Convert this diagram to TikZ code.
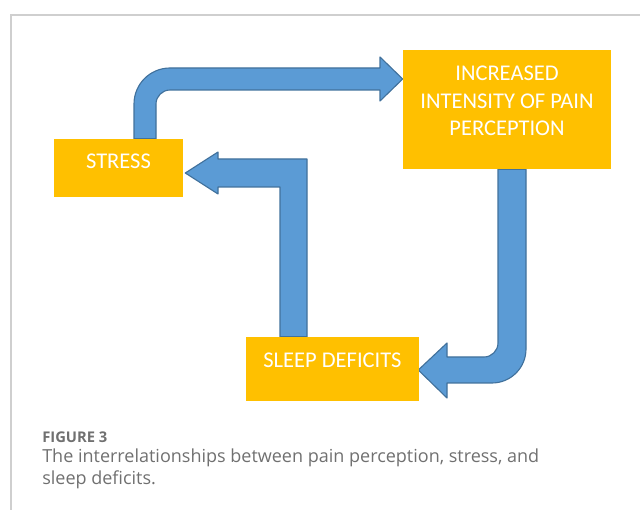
\documentclass[tikz,border=0pt]{standalone}
\usepackage{fontspec}
\setmainfont{Open Sans}
\newfontfamily\boxfont{Carlito}
\usetikzlibrary{calc,backgrounds}
\definecolor{Gold}{HTML}{FFC000}
\definecolor{ArrowBlue}{HTML}{5B9BD5}
\definecolor{ArrowEdge}{HTML}{41719C}
\definecolor{FrameGray}{HTML}{CFCFCF}
\definecolor{CapGray}{HTML}{707070}

\tikzset{
  box/.style={fill=Gold,inner sep=0pt,text=white,align=center,
    font=\boxfont\fontsize{16}{19.5}\selectfont},
  blockarrow/.style={fill=ArrowBlue,draw=ArrowEdge,line width=0.8pt,line join=round},
}

\begin{document}
\begin{tikzpicture}[x=0.025cm,y=-0.025cm]
    \useasboundingbox (0,0) rectangle (640,510);
    \draw[FrameGray,line width=0.8pt] (640,15) -- (11,15) -- (11,510);

    % the three factors
    \node[box,minimum width=3.225cm,minimum height=1.45cm,text depth=9pt]
      (stress) at (118.5,168) {STRESS};
    \node[box,minimum width=5.2cm,minimum height=2.975cm,text depth=12pt]
      (incr) at (507,109.5) {INCREASED\\INTENSITY OF PAIN\\PERCEPTION};
    \node[box,minimum width=4.325cm,minimum height=1.6cm,text depth=13pt]
      (sleep) at (332.5,369) {SLEEP DEFICITS};

    \begin{scope}[on background layer]
      % stress -> pain
      \draw[blockarrow] ($(stress.north)+(15.5,0)$) -- (134,104)
        .. controls (134,84.1) and (150.1,68) .. (170,68) -- (380,68) -- (380,57)
        -- ($(incr.west)+(0,-30.5)$) -- (380,101) -- (380,90) -- (170,90)
        .. controls (162.3,90) and (156,96.3) .. (156,104)
        -- ($(stress.north)+(37.5,0)$) -- cycle;
      % pain -> sleep
      \draw[blockarrow] ($(incr.south)+(-9,0)$) -- ($(incr.south)+(19,0)$)
        -- (526,349) .. controls (526,367.8) and (510.8,383) .. (492,383)
        -- (447,383) -- (447,398) -- ($(sleep.east)+(-1,1)$) -- (447,343)
        -- (447,357) -- (484,357) .. controls (491.7,357) and (498,350.7) .. (498,343)
        -- cycle;
      % sleep -> stress
      \draw[blockarrow] ($(sleep.north)+(-52.5,0)$) -- (280,187) -- (218,187)
        -- (218,194) -- ($(stress.east)+(2,5)$) -- (218,152) -- (218,159)
        -- (307,159) -- ($(sleep.north)+(-25.5,0)$) -- cycle;
    \end{scope}

    % caption
    \node[anchor=base west,inner sep=0pt,text=CapGray,font=\bfseries\fontsize{10.5}{12}\selectfont]
      (fig) at (42,443) {FIGURE 3};
    \node[anchor=base west,inner sep=0pt,text=CapGray,align=left,
      font=\fontsize{12.8}{16}\selectfont]
      (cap) at (42,485) {The interrelationships between pain perception, stress, and\\sleep deficits.};
\end{tikzpicture}
\end{document}
